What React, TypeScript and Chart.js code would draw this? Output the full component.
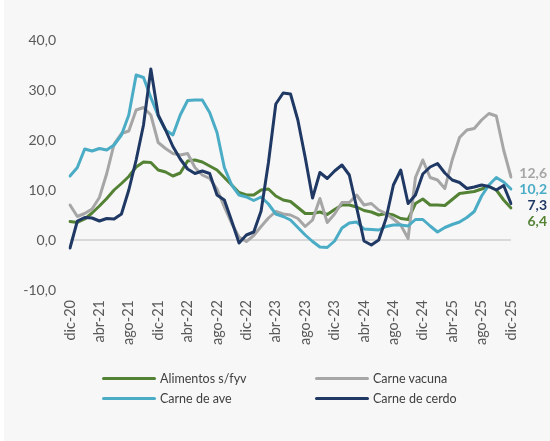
import React, { useEffect, useRef } from 'react';
import { Chart, registerables } from 'chart.js';

Chart.register(...registerables);

const MONTH_NAMES = ['ene', 'feb', 'mar', 'abr', 'may', 'jun', 'jul', 'ago', 'sep', 'oct', 'nov', 'dic'];
const categories: string[] = ['dic-20'];
for (let y = 21; y <= 25; y++) for (const m of MONTH_NAMES) categories.push(`${m}-${y}`);

const seriesNames = ['Alimentos s/fyv', 'Carne vacuna', 'Carne de ave', 'Carne de cerdo'];
const seriesColors = ['#548235', '#A6A6A6', '#4BACC6', '#1F3864'];

const alimentos = [
  3.7, 3.5, 4.2, 5.4, 6.8, 8.3, 10, 11.3, 12.7, 14.6,
  15.6, 15.5, 14, 13.6, 12.8, 13.4, 15.8, 16, 15.6, 14.8,
  14, 12.5, 11, 9.5, 9, 9, 10, 10.2, 8.8, 8,
  7.7, 6.5, 5.3, 5.3, 5.6, 5.1, 6.1, 7, 7, 6.6,
  5.9, 5.6, 5, 5.3, 5, 4.3, 4.1, 7.3, 8.2, 7,
  7, 6.9, 8.1, 9.3, 9.5, 9.7, 10.2, 10.7, 10, 8, 6.4,
];
const carneVacuna = [
  7, 4.7, 5.3, 6.2, 8.5, 13.3, 19.2, 21.3, 21.8, 26,
  26.5, 25, 19.5, 18.3, 17.3, 17, 17.3, 14.5, 13, 12.3,
  10.2, 6.6, 3.3, 0.6, -0.3, 0.9, 2.7, 4.4, 5.7, 5.2,
  5, 4.3, 2.7, 4, 8.3, 3.5, 5.2, 7.5, 7.5, 9,
  7, 7.3, 6, 5.3, 4.2, 3, 0.3, 12.5, 16, 12.5,
  12, 10.3, 16, 20.5, 22, 22.3, 24, 25.3, 24.8, 18, 12.6,
];
const carneAve = [
  12.8, 14.5, 18.2, 17.8, 18.3, 18, 19, 21, 25, 33,
  32.5, 28.5, 24.8, 22, 21, 25, 27.9, 28, 28, 25.5,
  21.5, 14.5, 11, 9, 8.6, 7.9, 8.6, 7.2, 5.2, 4.7,
  4, 2.5, 1, -0.3, -1.4, -1.5, -0.2, 2.4, 3.4, 3.6,
  2.2, 2.1, 2, 2.7, 3, 3, 2.8, 4.1, 4.1, 2.8,
  1.6, 2.5, 3.1, 3.6, 4.5, 5.7, 8.8, 11, 12.5, 11.6, 10.2,
];
const carneCerdo = [
  -1.6, 3.8, 4.5, 4.4, 3.8, 4.3, 4.2, 5.2, 10, 16,
  23, 34.2, 25, 22, 18.7, 16.2, 14.2, 13.3, 13.8, 13.3,
  9, 8, 3.8, -0.6, 1, 1.6, 5.8, 15.5, 27.2, 29.4,
  29.2, 24, 16.5, 8.4, 13.5, 12.3, 13.8, 15, 13, 6.5,
  -0.2, -1, 0, 4.3, 11, 14, 7.3, 9, 13.2, 14.6,
  15.3, 13.4, 12, 11.5, 10.3, 10.6, 11, 10.7, 10, 10.9, 7.3,
];
const seriesValues = [alimentos, carneVacuna, carneAve, carneCerdo];

const Y_MIN = -10;
const Y_MAX = 40;
const Y_STEP = 10;
const X_LABEL_EVERY = 4;

const FONT = 'Lato, "Open Sans", sans-serif';

const fmt = (v: number) => v.toFixed(1).replace('.', ',');

const endLabelPlugin = {
  id: 'endLabels',
  afterDatasetsDraw(chart: any) {
    const shifts = [13, -3.5, 0.5, 1.5];
    const ctx = chart.ctx;
    ctx.save();
    ctx.font = `bold 14px ${FONT}`;
    ctx.textAlign = 'right';
    ctx.textBaseline = 'middle';
    chart.data.datasets.forEach((ds: any, i: number) => {
      const meta = chart.getDatasetMeta(i);
      const pt = meta.data[meta.data.length - 1];
      const v = ds.data[ds.data.length - 1];
      ctx.fillStyle = ds.borderColor;
      ctx.fillText(fmt(v), 547, pt.y + shifts[i]);
    });
    ctx.restore();
  },
};

export default function App() {
  const ref = useRef<HTMLCanvasElement | null>(null);

  useEffect(() => {
    document.body.style.margin = '0';
    const canvas = ref.current;
    if (!canvas) return;
    const chart = new Chart(canvas, {
      type: 'line',
      data: {
        labels: categories,
        datasets: seriesNames.map((name, i) => ({
          label: name,
          data: seriesValues[i],
          borderColor: seriesColors[i],
          backgroundColor: seriesColors[i],
          borderWidth: 3,
          pointRadius: 0,
          tension: 0,
          fill: false,
          borderJoinStyle: 'round' as const,
          borderCapStyle: 'round' as const,
          order: seriesNames.length - i,
        })),
      },
      options: {
        responsive: false,
        animation: false,
        layout: { padding: { left: 0, right: 39, top: 40, bottom: 81 } },
        plugins: {
          legend: { display: false },
          tooltip: { enabled: false },
        },
        scales: {
          x: {
            offset: false,
            grid: { display: false, drawTicks: false },
            border: { display: false },
            ticks: {
              autoSkip: false,
              minRotation: 90,
              maxRotation: 90,
              padding: 10,
              color: '#595959',
              font: { family: FONT, size: 14.5 },
              callback: (_v: any, idx: number) => (idx % X_LABEL_EVERY === 0 ? categories[idx] : ''),
            },
            afterFit: (scale: any) => {
              scale.height = 70;
            },
          },
          y: {
            min: Y_MIN,
            max: Y_MAX,
            grid: {
              drawTicks: false,
              lineWidth: 2,
              color: (c: any) => (c.tick && c.tick.value === 0 ? '#D9D9D9' : 'rgba(0,0,0,0)'),
            },
            border: { display: false },
            ticks: {
              stepSize: Y_STEP,
              padding: 14,
              color: '#595959',
              font: { family: FONT, size: 14 },
              callback: (v: any) => fmt(Number(v)),
            },
            afterFit: (scale: any) => {
              scale.width = 70;
            },
          },
        },
      },
      plugins: [endLabelPlugin],
    });
    return () => chart.destroy();
  }, []);

  const legendItems = [
    { i: 0, x: 102, y: 378 },
    { i: 1, x: 315, y: 378 },
    { i: 2, x: 102, y: 398 },
    { i: 3, x: 315, y: 398 },
  ];

  return (
    <div style={{ position: 'fixed', left: 0, top: 0, width: 550, height: 441, background: '#ffffff' }}>
      <div style={{ position: 'absolute', left: 4, top: 0, width: 546, height: 441, background: '#F7F7F7' }} />
      <canvas ref={ref} width={550} height={441} style={{ position: 'absolute', left: 0, top: 0, width: 550, height: 441 }} />
      {legendItems.map((it) => (
        <div
          key={it.i}
          style={{
            position: 'absolute',
            left: it.x,
            top: it.y - 9,
            height: 18,
            display: 'flex',
            alignItems: 'center',
            fontFamily: FONT,
            fontSize: 12.5,
            color: '#404040',
            whiteSpace: 'nowrap',
          }}
        >
          <span
            style={{
              display: 'inline-block',
              width: 54,
              height: 3,
              borderRadius: 2,
              background: seriesColors[it.i],
              marginRight: 4,
            }}
          />
          <span>{seriesNames[it.i]}</span>
        </div>
      ))}
    </div>
  );
}
